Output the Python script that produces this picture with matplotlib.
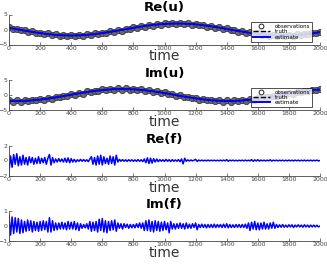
import matplotlib
matplotlib.use('Agg')
import numpy as np
import matplotlib.pyplot as plt

# time grids
t_obs = np.arange(0, 2001, 25)
t_u = np.arange(0, 2001, 50)
t_f = np.arange(0, 2001, 10)

# truth / estimate of u (every 50 steps)
re_u = [0.55, 0.09, -0.37, -0.81, -1.20, -1.54, -1.79, -1.95, -2.00, -1.95,
        -1.79, -1.54, -1.20, -0.81, -0.37, 0.09, 0.55, 0.97, 1.35, 1.65,
        1.86, 1.98, 1.99, 1.90, 1.70, 1.41, 1.05, 0.64, 0.18, -0.28,
        -0.72, -1.13, -1.48, -1.75, -1.92, -2.00, -1.97, -1.83, -1.60, -1.29,
        -0.89]
im_u = [-1.95, -2.00, -1.95, -1.79, -1.54, -1.20, -0.81, -0.37, 0.09, 0.55,
        0.97, 1.35, 1.65, 1.86, 1.98, 1.99, 1.90, 1.70, 1.41, 1.05,
        0.64, 0.18, -0.28, -0.72, -1.13, -1.48, -1.75, -1.92, -2.00, -1.97,
        -1.83, -1.60, -1.29, -0.89, -0.46, 0.00, 0.46, 0.89, 1.28, 1.60,
        1.83]

# noisy observations (every 25 steps)
re_obs = [0.8, 0.2, 0.3, -0.2, -0.1, -0.8, -0.6, -1.2, -1.0, -1.5,
          -1.3, -1.9, -1.6, -2.1, -1.8, -2.2, -1.8, -2.2, -1.7, -2.1,
          -1.6, -1.9, -1.3, -1.6, -1.0, -1.2, -0.6, -0.8, -0.1, -0.4,
          0.3, 0.1, 0.8, 0.5, 1.2, 1.0, 1.5, 1.3, 1.9, 1.6,
          2.1, 1.8, 2.2, 1.8, 2.2, 1.8, 2.1, 1.6, 1.9, 1.4,
          1.6, 1.0, 1.3, 0.6, 0.9, 0.2, 0.4, -0.3, -0.1, -0.7,
          -0.5, -1.1, -0.9, -1.5, -1.3, -1.8, -1.5, -2.1, -1.7, -2.2,
          -1.8, -2.2, -1.8, -2.1, -1.6, -1.9, -1.4, -1.6, -1.1, -1.2,
          -0.7]
im_obs = [-1.7, -2.2, -1.8, -2.2, -1.7, -2.0, -1.6, -1.8, -1.3, -1.5,
          -1.0, -1.2, -0.6, -0.8, -0.2, -0.4, 0.3, 0.1, 0.7, 0.5,
          1.2, 0.9, 1.5, 1.3, 1.9, 1.6, 2.1, 1.8, 2.2, 1.8,
          2.2, 1.8, 2.1, 1.6, 1.9, 1.4, 1.6, 1.0, 1.3, 0.6,
          0.9, 0.2, 0.4, -0.3, -0.1, -0.7, -0.5, -1.1, -0.9, -1.5,
          -1.3, -1.8, -1.5, -2.1, -1.7, -2.2, -1.8, -2.2, -1.8, -2.1,
          -1.6, -1.9, -1.4, -1.6, -1.1, -1.2, -0.7, -0.8, -0.2, -0.4,
          0.2, 0.1, 0.7, 0.5, 1.1, 0.9, 1.5, 1.3, 1.8, 1.6,
          2.0]

# estimated forcing f (every 10 steps)
re_f = [-1.5, 0.6, -0.9, 0.8, -0.5, 0.9, -0.7, 0.5, -0.6, 0.7,
        -0.5, 0.4, -0.6, 0.5, -0.3, 0.4, -0.5, 0.3, -0.4, 0.5,
        -0.4, 0.3, -0.3, 0.4, -0.5, 0.3, 0.8, -0.6, 0.4, -0.3,
        0.2, -0.2, 0.25, -0.15, 0.2, -0.2, 0.3, -0.25, 0.35, -0.3,
        0.25, -0.2, 0.15, -0.2, 0.1, -0.1, 0.15, -0.1, 0.12, -0.1,
        0.1, -0.15, 0.2, 0.5, -0.5, 0.4, -0.6, 0.6, -0.5, 0.7,
        -0.6, 0.5, -0.4, 0.3, -0.5, 0.6, -0.4, 0.5, -0.6, 0.7,
        -0.2, 0.15, -0.1, 0.12, -0.1, 0.1, -0.12, 0.1, -0.08, 0.1,
        -0.1, 0.08, -0.1, 0.12, -0.1, 0.1, -0.15, 0.2, -0.3, 0.35,
        -0.4, 0.3, -0.35, 0.25, -0.2, 0.2, -0.15, 0.12, -0.1, 0.1,
        -0.12, 0.15, -0.1, 0.1, -0.15, 0.12, -0.1, 0.08, -0.1, 0.12,
        -0.15, 0.2, -0.45, 0.3, -0.1, 0.08, -0.06, 0.07, -0.06, 0.05,
        0.15, -0.12, 0.06, -0.05, 0.06, -0.05, 0.04, -0.05, 0.06, -0.05,
        0.05, -0.04, 0.05, -0.05, 0.04, -0.04, 0.05, -0.05, 0.06, -0.05,
        0.12, -0.1, 0.05, -0.04, 0.05, -0.05, 0.04, -0.05, 0.04, -0.04,
        0.05, -0.05, 0.06, -0.05, 0.04, -0.05, 0.12, -0.1, 0.08, -0.06,
        0.1, -0.08, 0.06, -0.05, 0.05, -0.06, 0.05, -0.05, 0.1, -0.08,
        0.05, -0.04, 0.05, -0.05, 0.04, -0.04, 0.05, -0.05, 0.04, -0.05,
        0.05, -0.04, 0.04, -0.05, 0.05, -0.04, 0.05, -0.05, 0.04, -0.04,
        0.05, -0.05, 0.04, -0.04, 0.05, -0.05, 0.04, -0.04, 0.05, -0.05,
        0.0]
im_f = [0.7, -0.6, 0.6, -0.5, 0.55, -0.4, 0.5, -0.5, 0.4, -0.45,
        0.3, -0.35, 0.4, -0.3, 0.35, -0.4, 0.3, -0.3, 0.25, -0.35,
        0.3, -0.3, 0.35, -0.25, 0.3, -0.4, 0.55, -0.4, 0.35, -0.3,
        0.2, -0.25, 0.2, -0.2, 0.25, -0.2, 0.2, -0.25, 0.3, -0.2,
        0.25, -0.2, 0.3, -0.25, 0.2, -0.3, 0.15, -0.15, 0.1, -0.12,
        0.15, -0.2, 0.3, -0.35, 0.25, -0.3, 0.3, -0.4, 0.45, -0.3,
        0.5, -0.4, 0.35, -0.45, 0.3, -0.3, 0.35, -0.25, 0.4, -0.35,
        0.2, -0.15, 0.15, -0.2, 0.15, -0.1, 0.12, -0.15, 0.1, -0.12,
        0.1, -0.12, 0.15, -0.1, 0.2, -0.15, 0.2, -0.3, 0.35, -0.3,
        0.4, -0.35, 0.3, -0.4, 0.35, -0.3, 0.3, -0.35, 0.25, -0.3,
        0.3, -0.25, 0.2, -0.45, 0.3, -0.2, 0.15, -0.2, 0.15, -0.15,
        0.2, -0.15, 0.15, -0.2, 0.2, -0.15, 0.12, -0.15, 0.15, -0.1,
        0.2, -0.25, 0.1, -0.1, 0.12, -0.1, 0.1, -0.12, 0.1, -0.1,
        0.1, -0.1, 0.12, -0.1, 0.1, -0.08, 0.1, -0.1, 0.12, -0.1,
        0.15, -0.12, 0.1, -0.1, 0.08, -0.1, 0.1, -0.08, 0.1, -0.1,
        0.1, -0.1, 0.12, -0.15, 0.2, -0.3, 0.25, -0.2, 0.3, -0.25,
        0.2, -0.25, 0.2, -0.2, 0.25, -0.2, 0.15, -0.2, 0.2, -0.15,
        0.25, -0.15, 0.1, -0.1, 0.08, -0.08, 0.1, -0.08, 0.06, -0.08,
        0.08, -0.06, 0.08, -0.1, 0.06, -0.06, 0.08, -0.06, 0.06, -0.08,
        0.08, -0.06, 0.06, -0.08, 0.06, -0.06, 0.06, -0.06, 0.05, -0.06,
        0.0]

titles = ["Re(u)", "Im(u)", "Re(f)", "Im(f)"]
ylims = [5, 5, 2, 1]
xticks = list(range(0, 2001, 200))

W, H = 327, 264
fig = plt.figure(figsize=(W / 100, H / 100), dpi=100)
tops = [14.5, 80, 145.5, 211]
gray = "#444444"

axes = []
for i, top in enumerate(tops):
    ax = fig.add_axes([9 / W, 1 - (top + 30) / H, 311 / W, 30 / H])
    axes.append(ax)
    ax.set_xlim(0, 2000)
    ax.set_ylim(-ylims[i], ylims[i])
    ax.set_yticks([-ylims[i], 0, ylims[i]])
    ax.set_xticks(xticks)
    ax.tick_params(direction="in", length=2, width=0.5, labelsize=4.5,
                   pad=1, colors=gray)
    for s in ["top", "right"]:
        ax.spines[s].set_visible(False)
    for s in ["left", "bottom"]:
        ax.spines[s].set_color(gray)
        ax.spines[s].set_linewidth(0.6)
    ax.set_title(titles[i], fontsize=9.5, fontweight="bold", pad=1.5)
    ax.set_xlabel("time", fontsize=10, color="#333333", labelpad=-1)

for ax, obs, u in [(axes[0], re_obs, re_u), (axes[1], im_obs, im_u)]:
    ax.plot(t_obs, obs, "o", ms=4.5, mfc="#6a6a6a", mec="#3a3a3a", mew=0.6,
            label="observations")
    ax.plot(t_u, u, "--", color="black", lw=1.0, label="truth")
    ax.plot(t_u, u, "-", color="#0000ff", lw=1.4, label="estimate")
    leg = ax.legend(loc="lower right", bbox_to_anchor=(0.975, 0.1),
                    fontsize=4, frameon=True, fancybox=False, borderpad=0.35,
                    labelspacing=0.05, handlelength=3.2, handletextpad=0.8,
                    borderaxespad=0)
    leg.get_frame().set_edgecolor("black")
    leg.get_frame().set_linewidth(0.6)
    leg.legend_handles[0].set_markerfacecolor("white")
    leg.legend_handles[0].set_markeredgecolor("black")
    leg.legend_handles[0].set_markersize(3.5)

axes[2].plot(t_f, re_f, color="#0000ff", lw=1.1)
axes[3].plot(t_f, im_f, color="#0000ff", lw=1.1)

fig.savefig("out.png", dpi=100)
